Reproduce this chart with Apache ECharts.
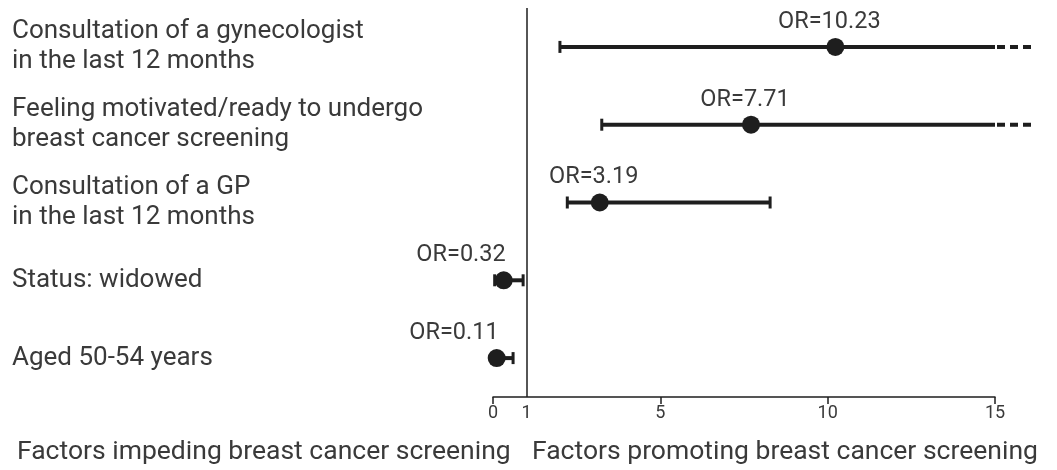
<!DOCTYPE html>
<html>
<head>
<meta charset="utf-8">
<script src="https://cdn.jsdelivr.net/npm/echarts@6/dist/echarts.min.js"></script>
<style>
  html, body { margin: 0; padding: 0; background: #fff; }
  #chart { width: 1057px; height: 470px; }
</style>
</head>
<body>
<div id="chart"></div>
<script>
// Factors associated with breast cancer screening: odds ratios with 95% CI
const factors = [
  'Consultation of a gynecologist\nin the last 12 months',
  'Feeling motivated/ready to undergo\nbreast cancer screening',
  'Consultation of a GP\nin the last 12 months',
  'Status: widowed',
  'Aged 50-54 years'
];
const oddsRatio = [10.23, 7.71, 3.19, 0.32, 0.11];
const ciLower   = [2.0, 3.25, 2.22, 0.05, 0.03];
const ciUpper   = [16.1, 16.1, 8.28, 0.9, 0.6];   // values past the axis end are drawn dashed
const tickValues  = [0, 5, 10, 15];
const labelValues = [0, 1, 5, 10, 15];
const axisMax = 15;
const reference = 1;

// where each OR label sits relative to its marker
const labelAlign = ['center', 'center', 'center', 'right', 'right'];

const FONT = 'Roboto, "Liberation Sans", sans-serif';
const INK = '#1e1e1e';
const TEXT = '#3a3a3a';

const rows = factors.map((f, i) => [i, ciLower[i], oddsRatio[i], ciUpper[i]]);

function renderItem(params, api) {
  const idx = api.value(0);
  const lo = api.value(1), or = api.value(2), hi = api.value(3);
  const pLo = api.coord([lo, idx]);
  const pOr = api.coord([or, idx]);
  const pHi = api.coord([hi, idx]);
  const pEnd = api.coord([Math.min(hi, axisMax), idx]);
  const y = pOr[1];
  const lw = 4, capH = 6, r = 9;
  const children = [
    { type: 'line', shape: { x1: pLo[0], y1: y, x2: pEnd[0], y2: y },
      style: { stroke: INK, lineWidth: lw } },
    { type: 'line', shape: { x1: pLo[0], y1: y - capH, x2: pLo[0], y2: y + capH },
      style: { stroke: INK, lineWidth: 3 } }
  ];
  if (hi > axisMax) {
    children.push({ type: 'line', shape: { x1: pEnd[0] + 2, y1: y, x2: pHi[0], y2: y },
      style: { stroke: INK, lineWidth: lw, lineDash: [8, 5] } });
  } else {
    children.push({ type: 'line', shape: { x1: pHi[0], y1: y - capH, x2: pHi[0], y2: y + capH },
      style: { stroke: INK, lineWidth: 3 } });
  }
  children.push({ type: 'circle', shape: { cx: pOr[0], cy: y, r: r }, style: { fill: INK } });
  const align = labelAlign[idx];
  children.push({
    type: 'text',
    x: align === 'right' ? pOr[0] + 2 : pOr[0] - 6,
    y: y - 25,
    style: {
      text: 'OR=' + or.toFixed(2),
      fill: TEXT, font: '23.5px ' + FONT,
      align: align, verticalAlign: 'middle'
    }
  });
  return { type: 'group', children: children };
}

const chart = echarts.init(document.getElementById('chart'));
chart.setOption({
  animation: false,
  backgroundColor: '#fff',
  grid: { left: 493, right: 62, top: 8, bottom: 73 },
  title: [
    { text: 'Factors impeding breast cancer screening', left: 12, top: 434,
      textStyle: { fontFamily: FONT, fontSize: 26.5, fontWeight: 'normal', color: TEXT } },
    { text: 'Factors promoting breast cancer screening', left: 527, top: 434,
      textStyle: { fontFamily: FONT, fontSize: 26.5, fontWeight: 'normal', color: TEXT } }
  ],
  xAxis: {
    type: 'value', min: 0, max: axisMax,
    axisLine: { show: true, lineStyle: { color: INK, width: 1.5 } },
    axisTick: { show: true, length: 7, customValues: tickValues, lineStyle: { color: INK, width: 1.5 } },
    axisLabel: { customValues: labelValues, fontFamily: FONT, fontSize: 18, color: TEXT, margin: 7 },
    splitLine: { show: false }
  },
  yAxis: {
    type: 'category', inverse: true, data: factors,
    axisLine: { show: false }, axisTick: { show: false },
    axisLabel: {
      align: 'left', margin: 481, fontFamily: FONT, fontSize: 26, lineHeight: 30, color: TEXT,
      padding: [4, 0, 0, 0]
    }
  },
  series: [{
    type: 'custom',
    renderItem: renderItem,
    data: rows,
    clip: false,
    encode: { x: [1, 2, 3], y: 0 },
    markLine: {
      silent: true, symbol: 'none', label: { show: false },
      lineStyle: { color: INK, width: 1.5, type: 'solid' },
      data: [{ xAxis: reference }]
    }
  }]
});
</script>
</body>
</html>
